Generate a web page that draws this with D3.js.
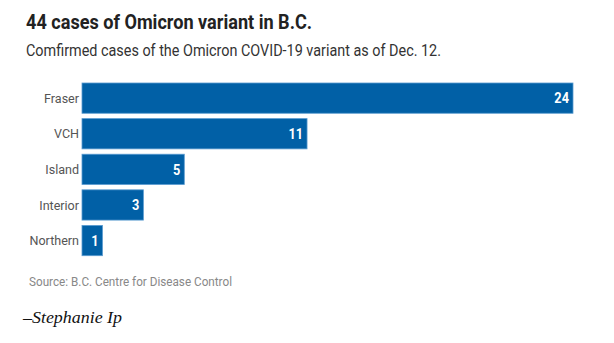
<!DOCTYPE html>
<html>
<head>
<meta charset="utf-8">
<script src="https://cdn.jsdelivr.net/npm/d3@7"></script>
<style>
  body { margin: 0; background: #fff; }
  text { font-family: Roboto, sans-serif; }
</style>
</head>
<body>
<svg id="chart"></svg>
<script>
// Data
const regions = ["Fraser", "VCH", "Island", "Interior", "Northern"];
const cases = [24, 11, 5, 3, 1];

const W = 614, H = 343;
const margin = { top: 83, left: 82, right: 41, bottom: 92 };

const svg = d3.select("#chart").attr("width", W).attr("height", H);

// Title + subtitle
svg.append("text")
  .attr("x", 26).attr("y", 29)
  .attr("textLength", 286).attr("lengthAdjust", "spacingAndGlyphs")
  .style("font-size", "21px").style("font-weight", "bold").style("fill", "#222")
  .text("44 cases of Omicron variant in B.C.");

svg.append("text")
  .attr("x", 26).attr("y", 56)
  .attr("textLength", 415).attr("lengthAdjust", "spacingAndGlyphs")
  .style("font-size", "16px").style("fill", "#333")
  .text("Comfirmed cases of the Omicron COVID-19 variant as of Dec. 12.");

const data = regions.map((r, i) => ({ region: r, value: cases[i] }));

const x = d3.scaleLinear().domain([0, 24]).range([margin.left, 573]);
const y = d3.scaleBand().domain(regions)
  .range([margin.top, 251 + 4.7]).paddingInner(0.15).paddingOuter(0);

// Bars
svg.selectAll(".bar").data(data).enter().append("rect")
  .attr("class", "bar")
  .attr("x", x(0))
  .attr("y", d => y(d.region))
  .attr("width", d => x(d.value) - x(0))
  .attr("height", y.bandwidth())
  .attr("fill", "#0160a6")
  .attr("stroke", "#5a9bd0")
  .attr("stroke-width", 0.8);

// Category labels
svg.selectAll(".lbl").data(data).enter().append("text")
  .attr("transform", d => `translate(${x(0) - 3},${y(d.region) + y.bandwidth() / 2}) scale(0.93,1)`)
  .attr("dy", "0.35em")
  .attr("text-anchor", "end")
  .style("font-size", "13.5px").style("fill", "#555")
  .text(d => d.region);

// Value labels
svg.selectAll(".val").data(data).enter().append("text")
  .attr("transform", d => `translate(${x(d.value) - 4},${y(d.region) + y.bandwidth() / 2}) scale(0.88,1)`)
  .attr("dy", "0.36em")
  .attr("text-anchor", "end")
  .style("font-size", "14.5px").style("font-weight", "bold").style("fill", "#fff")
  .text(d => d.value);

// Source
svg.append("text")
  .attr("x", 29).attr("y", 286)
  .attr("textLength", 203).attr("lengthAdjust", "spacingAndGlyphs")
  .style("font-size", "12px").style("fill", "#888")
  .text("Source: B.C. Centre for Disease Control");

// Byline
svg.append("text")
  .attr("x", 23).attr("y", 323)
  .attr("textLength", 99).attr("lengthAdjust", "spacingAndGlyphs")
  .style("font-family", "'Liberation Serif', serif")
  .style("font-style", "italic").style("font-size", "17px").style("fill", "#111")
  .text("–Stephanie Ip");
</script>
</body>
</html>
